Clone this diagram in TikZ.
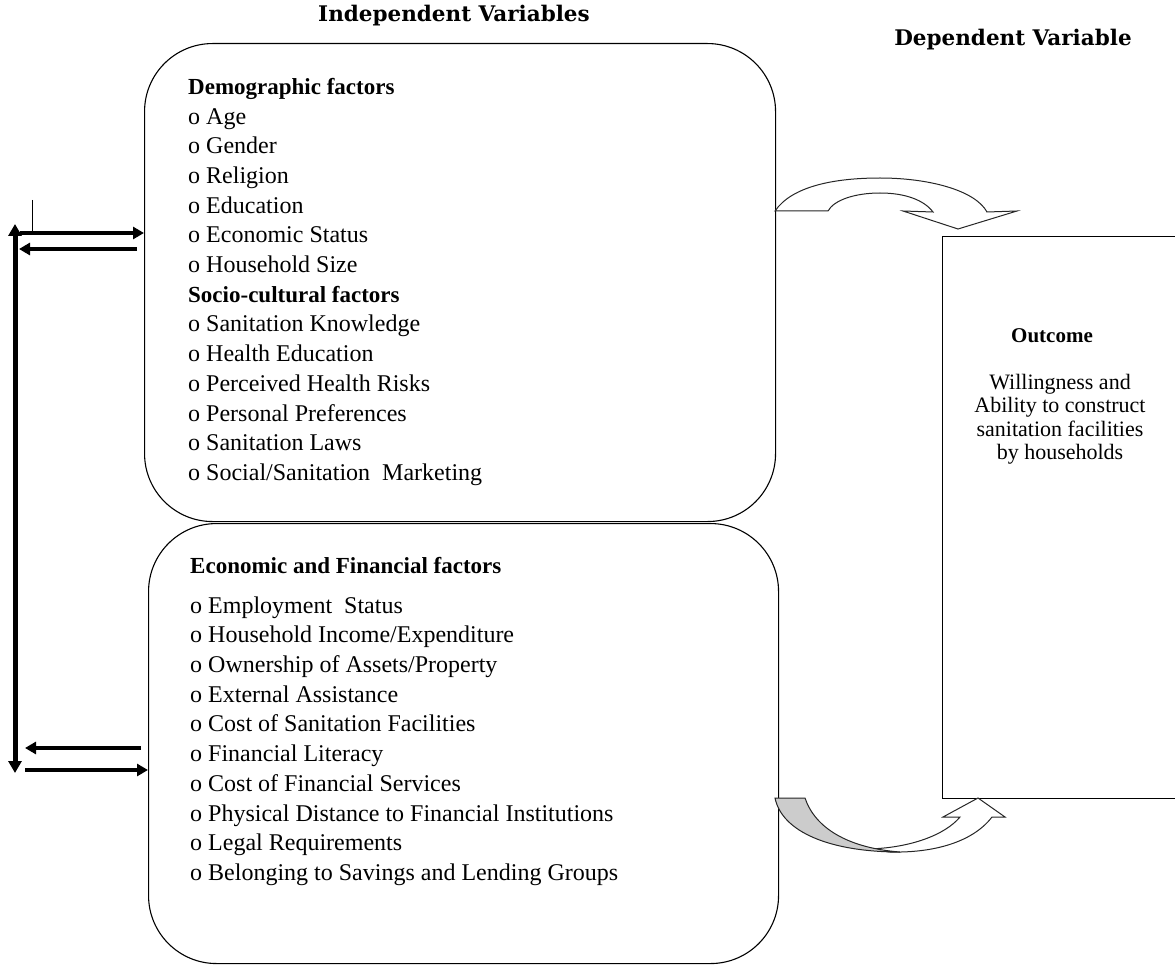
\documentclass[tikz,border=0pt]{standalone}
\usepackage{fontspec}
\setmainfont{Liberation Serif}
\newfontfamily\headfont{DejaVu Serif}
\definecolor{shadegray}{RGB}{204,204,204}
\usetikzlibrary{arrows.meta,positioning,calc}
\newcommand{\grouphead}[1]{{\fontsize{23}{29.7}\selectfont\bfseries #1}}

\begin{document}
\begin{tikzpicture}[x=1pt,y=-1pt,
  factorbox/.style={draw,line width=1.1pt,rounded corners=68pt,inner sep=0pt,anchor=north west},
  outbox/.style={draw,line width=1.1pt,inner sep=0pt,anchor=north west},
  itemlist/.style={anchor=north west,align=left,inner sep=0pt,font=\fontsize{24}{29.7}\selectfont},
  heading/.style={font=\headfont\bfseries\fontsize{21.5}{24}\selectfont},
  bigarrow/.style={{Triangle[length=12pt,width=13pt]}-{Triangle[length=12pt,width=13pt]},line width=5pt},
  arrow/.style={-{Triangle[length=11pt,width=12pt]},line width=3.5pt},
  curved/.style={draw=black!85,line width=1pt,line join=miter},
]
\useasboundingbox (0,0) rectangle (1175,965);

% headings
\node[heading] (indep) at (454,16) {Independent Variables};
\node[heading] (dep)   at (1013,40) {Dependent Variable};

% boxes
\node[factorbox,minimum width=631pt,minimum height=478pt] (demo) at (144,43) {};
\node[factorbox,minimum width=630pt,minimum height=440pt] (econ) at (148,523) {};
\node[outbox,minimum width=240pt,minimum height=562pt]    (outc) at (942,236) {};

% box texts
\node[itemlist] (demotext) at ([shift={(44,35)}]demo.north west)
  {\grouphead{Demographic factors}\\
   o Age\\ o Gender\\ o Religion\\ o Education\\ o Economic Status\\ o Household Size\\
   \grouphead{Socio-cultural factors}\\
   o Sanitation Knowledge\\ o Health Education\\ o Perceived Health Risks\\
   o Personal Preferences\\ o Sanitation Laws\\ o Social/Sanitation\ \ Marketing};
\node[itemlist] (econtext) at ([shift={(42,34)}]econ.north west)
  {\grouphead{Economic and Financial factors}\\[10pt]
   o Employment\ \ Status\\ o Household Income/Expenditure\\ o Ownership of Assets/Property\\
   o External Assistance\\ o Cost of Sanitation Facilities\\ o Financial Literacy\\
   o Cost of Financial Services\\ o Physical Distance to Financial Institutions\\
   o Legal Requirements\\ o Belonging to Savings and Lending Groups};

% outcome
\node[font=\bfseries\fontsize{21}{24}\selectfont] (outhead) at (1052,336) {Outcome};
\node[align=center,font=\fontsize{22}{23.5}\selectfont,below=24pt of outhead.south,anchor=north,xshift=8pt] (outtext)
  {Willingness and\\Ability to construct\\sanitation facilities\\by households};

% feedback arrows on the left
\coordinate (vtop) at (15,224);
\coordinate (vbot) at (15,773);
\draw[bigarrow] (vtop) -- (vbot);
\coordinate (tick) at (32,200);
\draw[line width=1pt] (tick) -- ++(0,33);
\coordinate (ina) at (20,233);
\draw[arrow] (ina) -- (ina -| demo.west);
\coordinate (outa) at (137,249);
\coordinate (outae) at (19,249);
\draw[arrow] (outa) -- (outae);
\coordinate (outb) at (141,748);
\coordinate (outbe) at (25,748);
\draw[arrow] (outb) -- (outbe);
\coordinate (inb) at (25,770);
\draw[arrow] (inb) -- (inb -| econ.west);

% curved arrow to outcome (top)
\path[curved,fill=white] (775,211) .. controls (792,186) and (835,178) .. (880,178)
  .. controls (928,178) and (975,190) .. (987,212) -- (1017,211) -- (958,229) -- (903,211) -- (933,212)
  .. controls (924,200) and (905,193) .. (880,193) .. controls (855,193) and (834,200) .. (828,211) -- cycle;

% curved arrow to outcome (bottom)
\path[curved,fill=white] (868,849) .. controls (910,848) and (945,835) .. (960,817) -- (943,817) -- (978,798)
  -- (1005,817) -- (992,817) .. controls (972,843) and (932,853) .. (890,852) -- cycle;
\path[curved,fill=shadegray] (775,798) -- (805,798) .. controls (815,828) and (848,848) .. (900,852)
  .. controls (830,852) and (782,832) .. (775,798) -- cycle;
\end{tikzpicture}
\end{document}
